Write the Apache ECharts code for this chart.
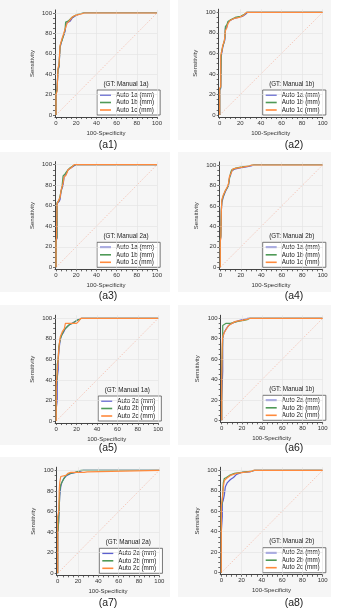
<!DOCTYPE html>
<html>
<head>
<meta charset="utf-8">
<script src="https://cdn.jsdelivr.net/npm/echarts@6/dist/echarts.min.js"></script>
<style>
  html, body { margin: 0; padding: 0; background: #fff; }
  #chart { width: 354px; height: 610px; }
</style>
</head>
<body>
<div id="chart"></div>
<script>
// labels
const panelLabels = ['(a1)', '(a2)', '(a3)', '(a4)', '(a5)', '(a6)', '(a7)', '(a8)'];
const gtLabels = ['(GT: Manual 1a)', '(GT: Manual 1b)', '(GT: Manual 2a)', '(GT: Manual 2b)',
                  '(GT: Manual 1a)', '(GT: Manual 1b)', '(GT: Manual 2a)', '(GT: Manual 2b)'];
const namesAuto1 = ['Auto 1a (mm)', 'Auto 1b (mm)', 'Auto 1c (mm)'];
const namesAuto2 = ['Auto 2a (mm)', 'Auto 2b (mm)', 'Auto 2c (mm)'];
const tickValues = [0, 20, 40, 60, 80, 100];
const refLine = [[0, 0], [100, 100]];

// ROC points [100-Specificity, Sensitivity]
const a1_a = [[0,0],[0,21],[1,24],[2,44],[3,47],[4,66],[5,70],[6,74],[8,79],[9,82],[10,90],[12,91],[14,92],[16,95],[19,97],[23,99],[28,100],[100,100]];
const a1_b = [[0,0],[0,22],[1,25],[2,45],[3,48],[4,67],[5,71],[6,73],[8,80],[9,84],[9.5,91],[12,92],[15,95],[18,97],[22,99],[27,100],[100,100]];
const a1_c = [[0,0],[0,20],[1,23],[2,46],[3,50],[4,68],[6,75],[8,81],[10,87],[11,90],[13,92],[16,96],[20,98],[25,99],[28,100],[100,100]];

const a2_a = [[0,0],[0,24],[1,26],[1.5,57],[2.5,58],[3,66],[4,70],[5,73],[5.5,84],[7,86],[8,90],[10,92],[14,94],[18,95],[22,96],[25,98],[27,100],[100,100]];
const a2_b = [[0,0],[0,25],[1,27],[1.5,60],[3,67],[4,70],[5,75],[5.5,86],[7,88],[8,91],[11,93],[15,95],[20,96],[24,98],[26,100],[100,100]];
const a2_c = [[0,0],[0,26],[1,28],[1,58],[2,62],[3,68],[4.5,72],[5.5,82],[7,85],[8,89],[10,92],[14,94],[19,95],[23,97],[26,100],[100,100]];

const a3_a = [[0,0],[0,26],[1,28],[1,62],[3,64],[4,66],[5,74],[7,80],[8,88],[10,91],[12,95],[15,97],[18,99],[20,100],[100,100]];
const a3_b = [[0,0],[0,27],[1,29],[1,63],[3,65],[5,74],[6,79],[7,89],[9,91],[11,94],[14,97],[17,99],[19,100],[100,100]];
const a3_c = [[0,0],[0,25],[0.5,28],[1,62],[2,64],[4,68],[5,75],[7,82],[8,88],[10,90],[12,95],[15,97],[18,100],[100,100]];

const a4_a = [[0,0],[0,26],[0.5,30],[1,55],[1.5,63],[3,69],[5,74],[7,78],[8,80],[9,88],[10,90],[11,94],[14,96],[18,97],[24,98],[30,99],[33,100],[100,100]];
const a4_b = [[0,0],[0,27],[0.5,31],[1,56],[1.5,65],[3,70],[5,75],[7,78],[8,81],[9,87],[10,92],[11,95],[15,97],[20,98],[26,99],[32,100],[100,100]];
const a4_c = [[0,0],[0,25],[0.5,29],[1,54],[1.5,66],[3,71],[5,75],[7,79],[8,82],[9,89],[11,93],[12,96],[16,97],[22,98],[28,99],[31,100],[100,100]];

const a5_a = [[0,0],[0,12],[1,20],[1,42],[2,50],[2,60],[3,72],[4,79],[5,83],[7,86],[9,90],[12,93],[15,95],[19,97],[22,99],[25,100],[100,100]];
const a5_b = [[0,0],[0,30],[1,45],[1,55],[2,60],[2.5,72],[4,80],[6,85],[8,89],[10,91],[13,94],[16,95],[20,98],[23,99],[25,100],[100,100]];
const a5_c = [[0,0],[0,35],[1,48],[2,62],[3,75],[4,82],[6,87],[8,90],[9,95],[20,95],[22,97],[24,100],[100,100]];

const a6_a = [[0,0],[0,20],[1,48],[1,80],[2,85],[4,89],[6,92],[8,94],[12,96],[18,98],[22,99],[26,100],[100,100]];
const a6_b = [[0,0],[0,50],[1,80],[1,93],[2,94],[4,95],[9,95],[12,96],[16,97],[22,98],[26,99],[28,100],[100,100]];
const a6_c = [[0,0],[0,40],[0.5,75],[1,82],[3,87],[5,90],[7,93],[10,95],[14,97],[20,98],[25,99],[28,100],[100,100]];

const a7_a = [[0,0],[0,40],[1,50],[1.5,65],[2,75],[3,84],[4,88],[6,92],[9,95],[13,97],[18,98],[22,99],[25,100],[100,100]];
const a7_b = [[0,0],[0,40],[0.5,42],[1,55],[1.5,62],[2,80],[3,86],[5,90],[8,95],[12,97],[17,98],[20,99],[23,100],[100,100]];
const a7_c = [[0,0],[0,55],[1,60],[1.5,80],[2,88],[3,94],[8,95],[10,97],[13,98],[20,98],[26,98],[29,98.5],[30,100],[100,100]];

const a8_a = [[0,0],[0,40],[1,55],[1,68],[2,71],[3,76],[4,84],[6,88],[9,91],[12,93],[15,96],[20,98],[28,98.5],[33,100],[100,100]];
const a8_b = [[0,0],[0,62],[1,70],[2,88],[3,92],[5,93],[8,95],[13,97],[20,98],[27,99],[33,100],[100,100]];
const a8_c = [[0,0],[0,66],[1,72],[2,84],[3,90],[5,92],[9,95],[15,97],[22,98],[30,99],[32,100],[100,100]];

const panelData = [
  [a1_a, a1_b, a1_c], [a2_a, a2_b, a2_c], [a3_a, a3_b, a3_c], [a4_a, a4_b, a4_c],
  [a5_a, a5_b, a5_c], [a6_a, a6_b, a6_c], [a7_a, a7_b, a7_c], [a8_a, a8_b, a8_c]
];

// layout: pixel of x=0, x=100, y=100, y=0 for each panel
const frames = [
  [56, 157, 13, 115], [219.7, 322.7, 12.3, 115],
  [56, 157, 164.7, 267.3], [220.3, 322.7, 165, 267.3],
  [56.2, 158.2, 318.3, 421], [221.7, 322.7, 318.3, 420.3],
  [57.7, 159.3, 470.3, 573.3], [221.3, 322.7, 470.3, 572.7]
];
const bgCols = [[0, 170], [178, 331]];
const bgRows = [[0, 140], [152, 292], [305, 445], [457, 597]];
const labelY = [140, 291, 443, 598];

const colors = ['#5b5fcf', '#4f9a57', '#ff8a3d'];
const font = 'Liberation Sans, Arial, sans-serif';
const X_MIN = -1, X_MAX = 100, Y_MIN = -2, Y_MAX = 103;

const chart = echarts.init(document.getElementById('chart'));

const grids = [], xAxes = [], yAxes = [], series = [], legends = [], titles = [], graphics = [];

bgRows.forEach(r => bgCols.forEach(c => {
  graphics.push({ type: 'rect', z: -10, silent: true,
    shape: { x: c[0], y: r[0], width: c[1] - c[0], height: r[1] - r[0] },
    style: { fill: '#f6f6f6' } });
}));

const gridMarks = [];
tickValues.filter(v => v > 0).forEach(v => { gridMarks.push({ xAxis: v }); gridMarks.push({ yAxis: v }); });
const minorTicks = [];
for (let v = 0; v <= 100; v += 5) minorTicks.push(v);

frames.forEach((f, i) => {
  const [x0, x100, y100, y0] = f;
  const sx = (x100 - x0) / 100, sy = (y0 - y100) / 100;
  grids.push({
    left: x0 + X_MIN * sx, width: (X_MAX - X_MIN) * sx,
    top: y100 - (Y_MAX - 100) * sy, height: (Y_MAX - Y_MIN) * sy,
    containLabel: false, outerBoundsMode: 'none'
  });
  const axisCommon = {
    gridIndex: i, type: 'value',
    splitLine: { show: false },
    axisLine: { show: true, onZero: false, lineStyle: { color: '#444', width: 1 } },
    axisTick: { show: true, length: 2, customValues: minorTicks, lineStyle: { color: '#444', width: 0.8 } },
    axisLabel: { customValues: tickValues, fontSize: 6, color: '#333', fontFamily: font, margin: 3 },
    nameLocation: 'middle',
    nameTextStyle: { fontSize: 6, color: '#333', fontFamily: font }
  };
  xAxes.push(Object.assign({}, axisCommon, { min: X_MIN, max: X_MAX, name: '100-Specificity', nameGap: 13 }));
  yAxes.push(Object.assign({}, axisCommon, { min: Y_MIN, max: Y_MAX, name: 'Sensitivity', nameGap: 20 }));

  series.push({
    type: 'line', name: 'ref', xAxisIndex: i, yAxisIndex: i, data: refLine,
    symbol: 'none', silent: true, z: 1,
    lineStyle: { color: '#f3b4a2', width: 0.7, type: [1.5, 1.5] },
    markLine: { silent: true, symbol: 'none', label: { show: false }, animation: false,
      lineStyle: { color: '#e2e2e2', width: 0.6, type: 'solid' }, data: gridMarks }
  });
  const names = i < 4 ? namesAuto1 : namesAuto2;
  panelData[i].forEach((d, k) => {
    series.push({
      type: 'line', name: names[k], xAxisIndex: i, yAxisIndex: i, data: d,
      symbol: 'none', z: 3 + k,
      lineStyle: { color: colors[k], width: 1.2 }, itemStyle: { color: colors[k] }
    });
  });

  legends.push({
    data: names, orient: 'vertical', left: x100 - 60, top: y0 - 25,
    icon: 'rect', itemWidth: 11, itemHeight: 1.6, itemGap: 1.5,
    padding: [2, 6, 2, 3], borderColor: '#555', borderWidth: 0.8, backgroundColor: '#fff',
    selectedMode: false,
    textStyle: { fontSize: 6.3, color: '#222', fontFamily: font }
  });

  titles.push({
    text: gtLabels[i], left: x100 - 31, top: y0 - 34, textAlign: 'center', padding: 0,
    textStyle: { fontSize: 6.3, fontWeight: 'normal', color: '#222', fontFamily: font }
  });
  titles.push({
    text: panelLabels[i], left: (i % 2 === 0 ? 108 : 294), top: labelY[Math.floor(i / 2)],
    textAlign: 'center', padding: 0,
    textStyle: { fontSize: 10.5, fontWeight: 'normal', color: '#222', fontFamily: font }
  });
});

chart.setOption({
  animation: false,
  backgroundColor: '#fff',
  textStyle: { fontFamily: font },
  graphic: graphics,
  title: titles,
  legend: legends,
  grid: grids,
  xAxis: xAxes,
  yAxis: yAxes,
  series: series
});
</script>
</body>
</html>
